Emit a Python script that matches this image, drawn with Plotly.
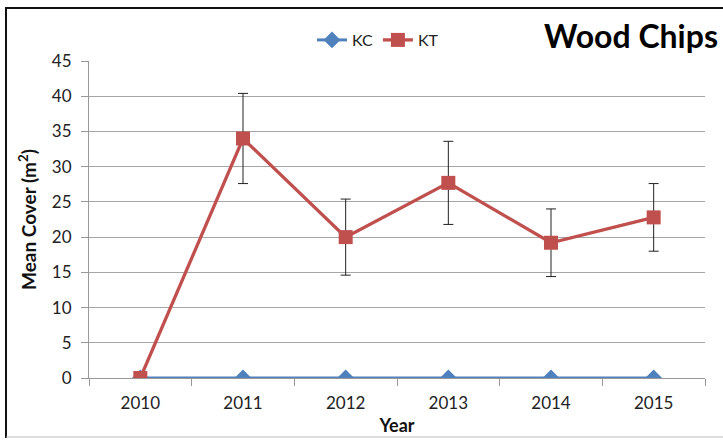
import plotly.graph_objects as go

years = ["2010", "2011", "2012", "2013", "2014", "2015"]
kc_values = [0, 0, 0, 0, 0, 0]
kt_values = [0, 34.0, 20.0, 27.7, 19.2, 22.8]
kt_errors = [0, 6.4, 5.4, 5.9, 4.8, 4.8]
y_ticks = [0, 5, 10, 15, 20, 25, 30, 35, 40, 45]

W, H = 723, 440
ML, MR, MT, MB = 89, 18, 61, 62
PW = W - ML - MR
PH = H - MT - MB

def px_x(p):
    return (p - ML) / PW

def px_y(p):
    return (H - MB - p) / PH

fig = go.Figure()
fig.add_trace(go.Scatter(
    x=years, y=kc_values, name="KC", mode="lines+markers",
    line=dict(color="#4F81BD", width=3),
    marker=dict(symbol="diamond", size=13, color="#4F81BD"),
))
fig.add_trace(go.Scatter(
    x=years, y=kt_values, name="KT", mode="lines+markers",
    line=dict(color="#C0504D", width=3.3),
    marker=dict(symbol="square", size=14, color="#C0504D"),
    error_y=dict(type="data", array=kt_errors, visible=True,
                 color="#222222", thickness=1, width=5),
))

font_family = "Lato, 'Open Sans', 'DejaVu Sans', sans-serif"

fig.update_layout(
    width=W, height=H,
    margin=dict(l=ML, r=MR, t=MT, b=MB, autoexpand=False),
    paper_bgcolor="white", plot_bgcolor="white",
    font=dict(family=font_family, size=16, color="#222222"),
    showlegend=True,
    legend=dict(orientation="h", x=px_x(378), y=px_y(40),
                xanchor="center", yanchor="middle",
                font=dict(size=16, color="#222222"),
                itemwidth=30, tracegroupgap=0,
                bgcolor="rgba(0,0,0,0)"),
    xaxis=dict(
        type="category", range=[-0.5, 5.5], automargin=False,
        showline=True, linecolor="#999999", linewidth=1,
        ticks="outside", tickson="boundaries", ticklen=7, tickcolor="#999999",
        ticklabelstandoff=10,
        showgrid=False, zeroline=False,
        title=dict(text="<b>Year</b>", font=dict(size=18, color="#111111"), standoff=6),
        tickfont=dict(size=17, color="#222222"),
    ),
    yaxis=dict(
        range=[0, 45], tickvals=y_ticks, ticktext=[str(v) for v in y_ticks],
        automargin=False,
        showline=True, linecolor="#999999", linewidth=1,
        ticks="outside", ticklen=7, tickcolor="#999999",
        ticklabelstandoff=6,
        showgrid=True, gridcolor="#A6A6A6", gridwidth=1,
        zeroline=False,
        title=dict(text="<b>Mean Cover (m<sup>2</sup>)</b>", font=dict(size=19, color="#111111"), standoff=10),
        tickfont=dict(size=17, color="#222222"),
    ),
    annotations=[dict(
        text="<b>Wood Chips</b>", xref="paper", yref="paper",
        x=px_x(720), y=px_y(35), xanchor="right", yanchor="middle",
        showarrow=False, font=dict(size=32, color="#000000", family=font_family),
    )],
    shapes=[
        dict(type="line", xref="paper", yref="paper", x0=px_x(6), x1=px_x(6),
             y0=px_y(7), y1=px_y(438), line=dict(color="#111111", width=2)),
        dict(type="line", xref="paper", yref="paper", x0=px_x(6), x1=px_x(730),
             y0=px_y(8), y1=px_y(8), line=dict(color="#111111", width=2)),
        dict(type="line", xref="paper", yref="paper", x0=px_x(6), x1=px_x(730),
             y0=px_y(437), y1=px_y(437), line=dict(color="#BBBBBB", width=1)),
    ],
)

fig.write_html("out.html", config={"displayModeBar": False},
               post_script="document.body.style.margin='0';document.body.style.overflow='hidden';")
